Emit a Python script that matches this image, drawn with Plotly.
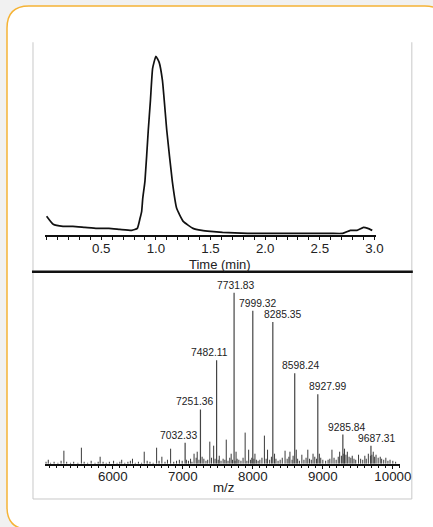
import plotly.graph_objects as go

# ---------------- data ----------------
# chromatogram (time in min, intensity a.u.)
chrom_t = [0.00, 0.06, 0.15, 0.24, 0.35, 0.46, 0.57, 0.67, 0.78, 0.83,
           0.855, 0.87, 0.88, 0.90, 0.93, 0.95, 0.97, 1.00, 1.03, 1.06,
           1.10, 1.15, 1.19, 1.25, 1.34, 1.42, 1.50, 1.61, 1.72, 1.84,
           2.00, 2.14, 2.30, 2.44, 2.60, 2.71, 2.78, 2.84, 2.90, 2.94, 2.98]
chrom_i = [19, 11, 9, 9, 8, 7, 7, 6, 5, 7,
           17, 24, 37, 54, 104, 134, 166, 178, 172, 154,
           104, 54, 27, 14, 7, 5, 4, 3, 2.5, 2,
           2, 2, 2, 2, 2, 2, 5, 5, 8, 7, 5]
time_ticks = [0.5, 1.0, 1.5, 2.0, 2.5, 3.0]

# mass spectrum: labelled peaks
main_mz = [7032.33, 7251.36, 7482.11, 7731.83, 7999.32, 8285.35, 8598.24, 8927.99, 9285.84, 9687.31]
main_h = [21, 54, 103, 170, 152, 141, 90, 69, 29, 18]
main_labels = ["7032.33", "7251.36", "7482.11", "7731.83", "7999.32",
               "8285.35", "8598.24", "8927.99", "9285.84", "9687.31"]

# smaller unlabelled peaks
minor_mz = [5077, 5300, 5550, 5818, 6126, 6280, 6448, 6625, 6700, 6825,
            6950, 7160, 7205, 7385, 7440, 7520, 7620, 7690, 7760, 7890,
            7940, 8030, 8165, 8210, 8310, 8460, 8530, 8620, 8700, 8785,
            8860, 8950, 9130, 9240, 9310, 9350, 9420, 9510, 9600, 9650,
            9720, 9760, 9820, 9900]
minor_h = [4, 13, 16, 7, 4, 5, 12, 16, 7, 15,
           4, 10, 12, 22, 18, 8, 24, 10, 12, 31,
           14, 10, 28, 14, 10, 13, 12, 14, 9, 14,
           10, 10, 14, 12, 15, 12, 8, 9, 8, 10,
           12, 9, 7, 6]

# baseline noise, low mass region
noise_lo_mz = [5045, 5110, 5160, 5215, 5260, 5340, 5395, 5440, 5500, 5590,
               5640, 5690, 5745, 5790, 5860, 5905, 5950, 6010, 6060, 6100,
               6170, 6215, 6250, 6320, 6365, 6410, 6490, 6530, 6575, 6660,
               6745, 6780, 6870, 6910, 6990]
noise_lo_h = [2, 1, 2, 1, 3, 2, 1, 2, 1, 2,
              1, 3, 1, 2, 2, 1, 2, 3, 1, 2,
              1, 2, 3, 1, 2, 1, 3, 2, 1, 3,
              2, 4, 2, 3, 3]
# baseline noise, high mass region
noise_hi_mz = [7050, 7080, 7110, 7130, 7190, 7230, 7275, 7300, 7330, 7355,
               7410, 7460, 7505, 7545, 7575, 7600, 7645, 7670, 7710, 7745,
               7775, 7800, 7830, 7860, 7915, 7965, 7985, 8015, 8050, 8075,
               8100, 8130, 8190, 8240, 8265, 8330, 8360, 8390, 8420, 8490,
               8515, 8560, 8575, 8640, 8665, 8730, 8760, 8810, 8835, 8885,
               8910, 8970, 9000, 9040, 9075, 9100, 9160, 9190, 9220, 9265,
               9300, 9330, 9375, 9400, 9445, 9470, 9540, 9570, 9620, 9680,
               9700, 9740, 9790, 9840, 9870, 9930, 9960, 10000, 10040]
noise_hi_h = [4, 3, 5, 2, 6, 4, 7, 5, 3, 4,
              6, 5, 4, 3, 5, 4, 3, 6, 4, 3,
              5, 4, 3, 6, 3, 4, 6, 5, 4, 3,
              4, 6, 5, 4, 7, 5, 3, 4, 6, 5,
              7, 4, 8, 5, 3, 4, 6, 5, 4, 7,
              5, 6, 4, 3, 4, 5, 6, 4, 7, 8,
              10, 9, 7, 6, 5, 4, 5, 4, 5, 8,
              9, 7, 6, 5, 4, 3, 4, 3, 2]
mz_ticks = [6000, 7000, 8000, 9000, 10000]

# ---------------- layout helpers (pixel -> paper) ----------------
W, H = 433, 527
SX, SY = 0.975, 0.994   # observed rendering scale of the page
# label horizontal offsets in px (style only)
label_xshift = [-7, -6, -7, 1, 5, 10, 6, 10, 4, 6]


def px(x):
    return x / (W * SX)


def py(y):
    return 1 - y / (H * SY)


def sticks(mz, h):
    xs, ys = [], []
    for m, v in zip(mz, h):
        xs += [m, m, None]
        ys += [0, v, None]
    return xs, ys


FONT = "Liberation Sans, Arial, Helvetica, sans-serif"
TXT = "#222222"

fig = go.Figure()

# chromatogram
fig.add_trace(go.Scatter(x=chrom_t, y=chrom_i, mode="lines",
                         line=dict(color="#111111", width=1.7, shape="spline", smoothing=0.4),
                         xaxis="x", yaxis="y", hoverinfo="skip", showlegend=False))

# spectrum
nx, ny = sticks(noise_lo_mz + noise_hi_mz + minor_mz, noise_lo_h + noise_hi_h + minor_h)
fig.add_trace(go.Scatter(x=nx, y=ny, mode="lines", line=dict(color="#3a3a3a", width=1),
                         xaxis="x2", yaxis="y2", hoverinfo="skip", showlegend=False))
mx, my = sticks(main_mz, main_h)
fig.add_trace(go.Scatter(x=mx, y=my, mode="lines", line=dict(color="#444444", width=1.2),
                         xaxis="x2", yaxis="y2", hoverinfo="skip", showlegend=False))

annotations = []
for m, v, lab, dx in zip(main_mz, main_h, main_labels, label_xshift):
    annotations.append(dict(x=m, y=v, xref="x2", yref="y2", text=lab, showarrow=False,
                            xanchor="center", yanchor="bottom", xshift=dx, yshift=0,
                            font=dict(family=FONT, size=10.3, color=TXT)))
annotations.append(dict(x=px(220), y=py(263), xref="paper", yref="paper", text="Time (min)",
                        showarrow=False, xanchor="center", yanchor="middle",
                        font=dict(family=FONT, size=13, color=TXT)))
annotations.append(dict(x=px(224), y=py(485), xref="paper", yref="paper", text="m/z",
                        showarrow=False, xanchor="center", yanchor="middle",
                        font=dict(family=FONT, size=13.3, color=TXT)))

# rounded card border (right edge falls past the page edge)
x0, x1, y0, y1, r = 7, 447, 6, 526, 22
pts = [("M", x0 + r, y0), ("L", x1 - r, y0), ("Q", x1, y0, x1, y0 + r), ("L", x1, y1 - r),
       ("Q", x1, y1, x1 - r, y1), ("L", x0 + r, y1), ("Q", x0, y1, x0, y1 - r),
       ("L", x0, y0 + r), ("Q", x0, y0, x0 + r, y0)]
path = ""
for p in pts:
    cmd = p[0]
    coords = p[1:]
    s = []
    for i in range(0, len(coords), 2):
        s.append(f"{px(coords[i]):.5f},{py(coords[i + 1]):.5f}")
    path += cmd + " " + " ".join(s) + " "
path += "Z"

shapes = [
    dict(type="path", path=path, xref="paper", yref="paper", layer="below",
         fillcolor="white", line=dict(color="#f5b336", width=1.5)),
    dict(type="line", xref="paper", yref="paper", x0=px(33), x1=px(33), y0=py(42), y1=py(496),
         line=dict(color="#c8c8c8", width=1), layer="below"),
    dict(type="line", xref="paper", yref="paper", x0=px(412), x1=px(412), y0=py(42), y1=py(496),
         line=dict(color="#c8c8c8", width=1), layer="below"),
    dict(type="line", xref="paper", yref="paper", x0=px(33), x1=px(412), y0=py(496), y1=py(496),
         line=dict(color="#c8c8c8", width=1), layer="below"),
    dict(type="line", xref="paper", yref="paper", x0=px(32), x1=px(413), y0=py(270), y1=py(270),
         line=dict(color="#111111", width=2.5)),
]

axis_common = dict(showgrid=False, zeroline=False, showline=True, linecolor="#111111",
                   linewidth=1.5, ticks="outside", ticklen=3, tickwidth=1, tickcolor="#111111",
                   ticklabelstandoff=-3,
                   tickfont=dict(family=FONT, size=13.3, color=TXT))

fig.update_layout(
    width=W, height=H, autosize=False,
    margin=dict(l=0, r=0, t=0, b=0),
    paper_bgcolor="#f1f1f1", plot_bgcolor="rgba(0,0,0,0)",
    showlegend=False,
    xaxis=dict(domain=[px(45), px(376)], range=[-0.015, 3.013], anchor="y",
               tickvals=time_ticks, ticktext=[f"{v:.1f}" for v in time_ticks],
               minor=dict(dtick=0.1, tick0=0, ticks="outside", ticklen=3, tickcolor="#111111"),
               **axis_common),
    yaxis=dict(domain=[py(234), py(42)], range=[0, 192], visible=False, anchor="x"),
    xaxis2=dict(domain=[px(45), px(400)], range=[5030, 10100], anchor="y2",
                tickvals=mz_ticks, ticktext=[str(v) for v in mz_ticks],
                minor=dict(dtick=100, tick0=5000, ticks="outside", ticklen=2.5, tickcolor="#111111"),
                **axis_common),
    yaxis2=dict(domain=[py(461), py(278)], range=[0, 183], visible=False, anchor="x2"),
    annotations=annotations,
    shapes=shapes,
)

fig.write_html("out.html", config={"responsive": False})
